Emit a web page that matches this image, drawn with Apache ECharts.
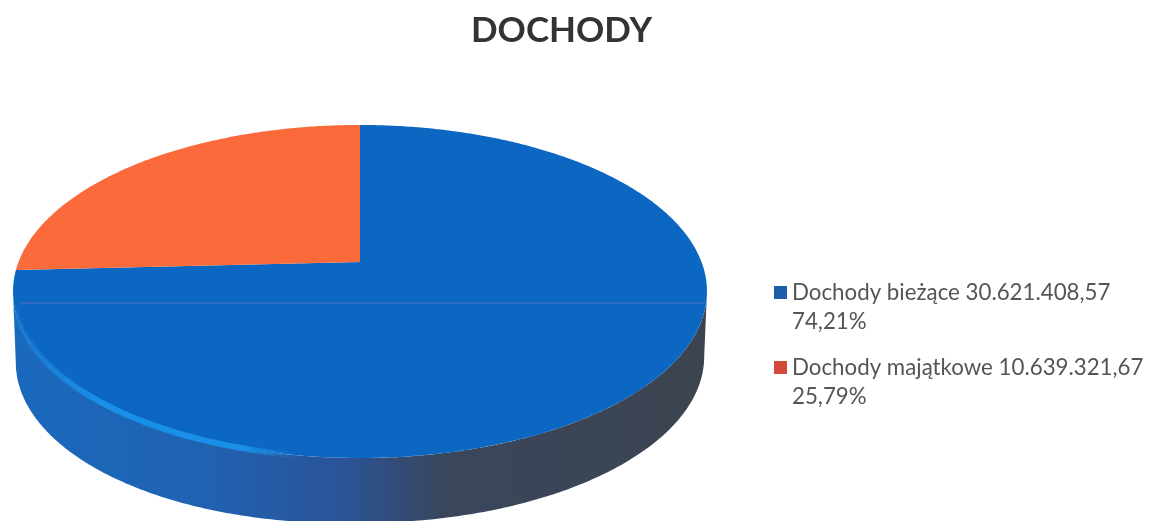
<!DOCTYPE html>
<html>
<head>
<meta charset="utf-8">
<style>html,body{margin:0;padding:0;background:#fff}#c{width:1150px;height:521px}</style>
<script src="https://cdn.jsdelivr.net/npm/echarts@6/dist/echarts.min.js"></script>
</head>
<body>
<div id="c"></div>
<script>
const categories = ['Dochody bieżące', 'Dochody majątkowe'];
const values = [30621408.57, 10639321.67];
const amountLabels = ['30.621.408,57', '10.639.321,67'];
const percentLabels = ['74,21%', '25,79%'];
const colors = ['#0c67c2', '#fb6a3b'];
const legendColors = ['#1c5fa8', '#d5493a'];

const total = values.reduce((a, b) => a + b, 0);
const cx = 360, cy = 262, R = 341.5, k = 161.3, c = 0.177, depth = 65;

function project(t, dy, sx) {
  const u = Math.sin(t), v = Math.cos(t), d = 1 + c * v;
  const bump = dy && u < 0 ? 6 * Math.sin(-u * Math.PI / 2) : 0;
  return [cx + (sx || 1) * R * u / d, cy - k * v / d + (dy || 0) + bump];
}
function arc(t0, t1, dy, sx) {
  const pts = [], n = Math.max(2, Math.ceil(Math.abs(t1 - t0) / 0.01));
  for (let i = 0; i <= n; i++) pts.push(project(t0 + (t1 - t0) * i / n, dy, sx));
  return pts;
}

function renderSlice(params, api) {
  const idx = params.seriesIndex;
  let before = 0;
  for (let i = 0; i < idx; i++) before += values[i];
  const a0 = before / total * 2 * Math.PI;
  const a1 = (before + api.value(0)) / total * 2 * Math.PI;
  const children = [];
  if (idx === 0) {
    const tA = Math.acos(-c), tB = 2 * Math.PI - tA;
    const side = arc(tA, tB, depth, 0.992).concat(arc(tB, tA, 0, 1));
    children.push({
      type: 'polygon', shape: { points: side },
      style: { fill: new echarts.graphic.LinearGradient(0, 0, 1, 0, [
        { offset: 0, color: '#1a69bd' },
        { offset: 0.27, color: '#2062b2' },
        { offset: 0.47, color: '#2a5499' },
        { offset: 0.62, color: '#39465c' },
        { offset: 1, color: '#3d4450' }
      ]) }
    });
  }
  children.push({
    type: 'polygon',
    shape: { points: [[cx, cy]].concat(arc(a0, a1)) },
    style: { fill: colors[idx] }
  });
  if (idx === 0) {
    children.push({
      type: 'polyline',
      shape: { points: arc(Math.PI * 1.05, Math.PI * 1.41) },
      style: { fill: 'none', lineWidth: 6,
        stroke: new echarts.graphic.LinearGradient(0, 0, 1, 0, [
          { offset: 0, color: 'rgba(26,143,232,0.15)' },
          { offset: 0.3, color: 'rgba(26,143,232,1)' },
          { offset: 0.8, color: 'rgba(26,143,232,1)' },
          { offset: 1, color: 'rgba(26,143,232,0)' }
        ]) }
    });
    children.push({
      type: 'line',
      shape: { x1: 20, y1: 303, x2: 705, y2: 303 },
      style: { stroke: 'rgba(90,110,200,0.45)', lineWidth: 2 }
    });
  }
  return { type: 'group', children };
}

const chart = echarts.init(document.getElementById('c'), null, { renderer: 'canvas' });
chart.setOption({
  animation: false,
  backgroundColor: '#ffffff',
  title: {
    text: 'DOCHODY', left: 466, top: 8,
    textStyle: { fontFamily: 'Lato', fontSize: 35, fontWeight: 'bold', color: '#333333' }
  },
  legend: {
    orient: 'vertical', left: 769, top: 244, itemWidth: 13, itemHeight: 13, itemGap: -12,
    icon: 'rect', selectedMode: false,
    data: categories.map((n, i) => ({ name: n, itemStyle: { color: legendColors[i] } })),
    formatter: n => {
      const i = categories.indexOf(n);
      return ' \n' + n + ' ' + amountLabels[i] + '\n' + percentLabels[i];
    },
    textStyle: { fontFamily: 'Lato', fontSize: 22.3, lineHeight: 29, color: '#555555' }
  },
  series: categories.map((n, i) => ({
    type: 'custom', name: n, coordinateSystem: 'none', silent: true,
    z: i + 1, renderItem: renderSlice,
    data: [[values[i]]],
    itemStyle: { color: legendColors[i] }
  }))
});
</script>
</body>
</html>
